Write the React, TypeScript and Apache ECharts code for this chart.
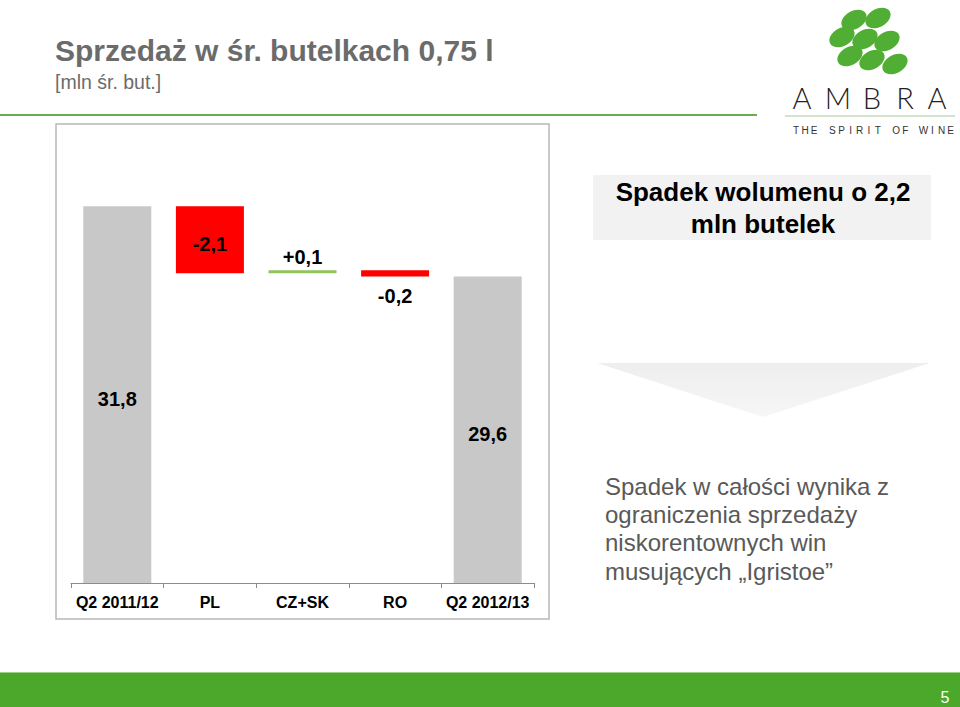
import React, { useEffect, useRef } from "react";
import * as echarts from "echarts";

const categories = ["Q2 2011/12", "PL", "CZ+SK", "RO", "Q2 2012/13"];
const startTotal = 31.8;
const deltas = [-2.1, 0.1, -0.2];
const endTotal = 29.6;
const valueLabels = ["31,8", "-2,1", "+0,1", "-0,2", "29,6"];
const labelPlacement = ["inside", "inside", "top", "bottom", "inside"];

const Y_MIN = 20;
const Y_MAX = 33;

const FONT = "'Liberation Sans', Arial, Helvetica, sans-serif";

function buildWaterfall() {
  const base: number[] = [];
  const height: number[] = [];
  const colors: string[] = [];
  base.push(Y_MIN);
  height.push(+(startTotal - Y_MIN).toFixed(3));
  colors.push("#c8c8c8");
  let level = startTotal;
  deltas.forEach((d) => {
    const next = +(level + d).toFixed(3);
    base.push(Math.min(level, next));
    height.push(Math.abs(d));
    colors.push(d < 0 ? "#ff0000" : "#8fc45a");
    level = next;
  });
  base.push(Y_MIN);
  height.push(+(endTotal - Y_MIN).toFixed(3));
  colors.push("#c8c8c8");
  return { base, height, colors };
}

const grapes = [
  [854, 20], [878, 18], [842, 37], [865, 39], [887, 41], [850, 56], [872, 60], [895, 64],
];
const ambra = ["A", "M", "B", "R", "A"];
const ambraX = [802, 838, 872, 905, 937];
const tagline = "THE SPIRIT OF WINE";

export default function App() {
  const ref = useRef<HTMLDivElement>(null);
  useEffect(() => {
    document.body.style.margin = "0";
    if (!ref.current) return;
    const chart = echarts.init(ref.current, null, { renderer: "svg" });
    const { base, height, colors } = buildWaterfall();

    const graphics: any[] = [];
    // footer
    graphics.push({ type: "rect", shape: { x: 0, y: 672, width: 960, height: 35 }, style: { fill: "#4ba82b" } });
    graphics.push({ type: "line", shape: { x1: 0, y1: 672.5, x2: 960, y2: 672.5 }, style: { stroke: "#9fd08a", lineWidth: 1 } });
    graphics.push({ type: "text", x: 945, y: 697, style: { text: "5", fill: "#ffffff", font: `16px ${FONT}`, align: "center", verticalAlign: "middle" } });
    // header
    graphics.push({ type: "line", shape: { x1: 0, y1: 115, x2: 757, y2: 115 }, style: { stroke: "#6aaf4f", lineWidth: 2 } });
    graphics.push({ type: "text", x: 55, y: 50, style: { text: "Sprzedaż w śr. butelkach 0,75 l", fill: "#6b6b6b", font: `bold 30px ${FONT}`, verticalAlign: "middle" } });
    graphics.push({ type: "text", x: 55, y: 82, style: { text: "[mln śr. but.]", fill: "#6b6b6b", font: `19.5px ${FONT}`, verticalAlign: "middle" } });
    // chart frame
    graphics.push({ type: "rect", shape: { x: 56, y: 124, width: 493, height: 495 }, style: { fill: "none", stroke: "#b8b8b8", lineWidth: 1.5 }, z: -1 });
    // logo
    grapes.forEach(([cx, cy]) => {
      graphics.push({ type: "ellipse", x: cx, y: cy, rotation: 0.5, shape: { cx: 0, cy: 0, rx: 13.5, ry: 9 }, style: { fill: "#4fae33" } });
    });
    ambra.forEach((ch, i) => {
      graphics.push({ type: "text", x: ambraX[i], y: 97, style: { text: ch, fill: "#222222", font: `300 29px Lato, ${FONT}`, align: "center", verticalAlign: "middle" } });
    });
    graphics.push({ type: "line", shape: { x1: 785, y1: 116, x2: 955, y2: 116 }, style: { stroke: "#a6c99a", lineWidth: 1 } });
    tagline.split("").forEach((ch, i) => {
      if (ch === " ") return;
      graphics.push({ type: "text", x: 796 + i * 9.1, y: 130, style: { text: ch, fill: "#333333", font: `10px ${FONT}`, align: "center", verticalAlign: "middle" } });
    });
    // right box
    graphics.push({ type: "rect", shape: { x: 593, y: 175, width: 338, height: 65 }, style: { fill: "#f2f2f2" } });
    graphics.push({ type: "text", x: 763, y: 192, style: { text: "Spadek wolumenu o 2,2", fill: "#000000", font: `bold 26px ${FONT}`, align: "center", verticalAlign: "middle" } });
    graphics.push({ type: "text", x: 763, y: 224, style: { text: "mln butelek", fill: "#000000", font: `bold 26px ${FONT}`, align: "center", verticalAlign: "middle" } });
    // arrow
    graphics.push({
      type: "polygon",
      shape: { points: [[597, 363], [930, 363], [763, 417]] },
      style: {
        fill: new echarts.graphic.LinearGradient(0, 0, 0, 1, [
          { offset: 0, color: "#eeeeee" },
          { offset: 1, color: "#f6f6f6" },
        ]),
      },
    });
    // comment text
    const lines = ["Spadek w całości wynika z", "ograniczenia sprzedaży", "niskorentownych win", "musujących \u201EIgristoe\u201D"];
    lines.forEach((t, i) => {
      graphics.push({ type: "text", x: 605, y: 486 + i * 28.4, style: { text: t, fill: "#595959", font: `24px ${FONT}`, verticalAlign: "middle" } });
    });

    chart.setOption({
      animation: false,
      backgroundColor: "#ffffff",
      grid: { left: 71, right: 426, top: 168, bottom: 124 },
      xAxis: {
        type: "category",
        data: categories,
        axisLine: { lineStyle: { color: "#8c8c8c", width: 1 } },
        axisTick: { show: true, length: 5, lineStyle: { color: "#8c8c8c" } },
        axisLabel: { color: "#000000", fontFamily: FONT, fontWeight: "bold", fontSize: 16, margin: 11, interval: 0 },
      },
      yAxis: { type: "value", min: Y_MIN, max: Y_MAX, show: false, splitLine: { show: false } },
      series: [
        {
          type: "bar",
          stack: "wf",
          data: base,
          barWidth: 68,
          itemStyle: { color: "transparent" },
          silent: true,
          clip: true,
        },
        {
          type: "bar",
          stack: "wf",
          barWidth: 68,
          clip: true,
          data: height.map((h, i) => ({
            value: h,
            itemStyle: { color: colors[i] },
            label: {
              show: true,
              position: labelPlacement[i],
              distance: labelPlacement[i] === "bottom" ? 9 : 3,
              offset: labelPlacement[i] === "inside" ? [0, 4] : [0, 0],
              formatter: () => valueLabels[i],
              color: "#000000",
              fontFamily: FONT,
              fontWeight: "bold",
              fontSize: 20,
            },
          })),
        },
      ],
      graphic: graphics,
    });
    return () => chart.dispose();
  }, []);
  return <div ref={ref} style={{ width: 960, height: 707 }} />;
}
